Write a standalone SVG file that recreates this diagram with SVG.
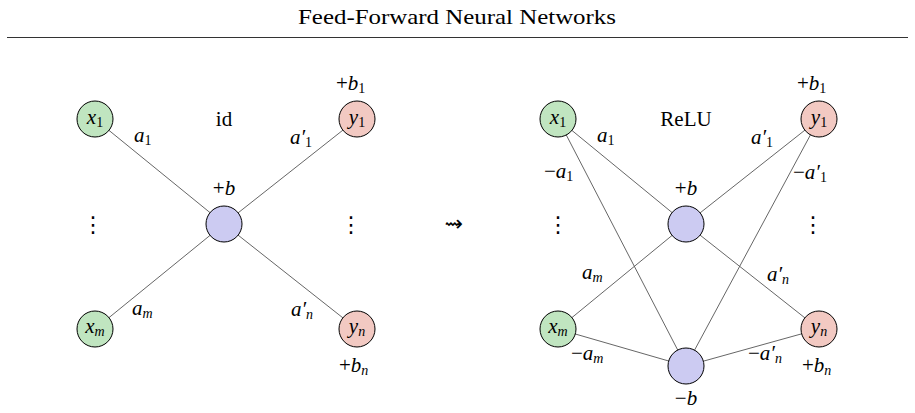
<svg xmlns="http://www.w3.org/2000/svg" width="915" height="413" viewBox="0 0 915 413">
<style>
.t{font-family:"Liberation Serif","Times New Roman",serif;fill:#000}
.m{font-family:"Liberation Serif","Times New Roman",serif;font-style:italic;font-size:21px;fill:#000}
.r{font-style:normal}
.s{font-size:14px}
.e{stroke:#555;stroke-width:0.9;fill:none}
.nx{fill:#c0e5c0;stroke:#000;stroke-width:1}
.ny{fill:#f2c9c2;stroke:#000;stroke-width:1}
.nh{fill:#cccbf2;stroke:#000;stroke-width:1}
.dots{font-family:"DejaVu Sans",sans-serif;font-size:22px}
</style>
<rect width="915" height="413" fill="#fff"/>
<text class="t" x="457" y="24" font-size="22" text-anchor="middle" textLength="318" lengthAdjust="spacingAndGlyphs">Feed-Forward Neural Networks</text>
<line x1="7" y1="37.5" x2="908" y2="37.5" stroke="#333" stroke-width="1"/>

<g id="connectors">
<line class="e" x1="95" y1="119" x2="224" y2="224"/>
<line class="e" x1="95" y1="329" x2="224" y2="224"/>
<line class="e" x1="224" y1="224" x2="357" y2="119"/>
<line class="e" x1="224" y1="224" x2="357" y2="329"/>
<line class="e" x1="558" y1="119" x2="686" y2="224"/>
<line class="e" x1="558" y1="119" x2="686" y2="366"/>
<line class="e" x1="558" y1="329" x2="686" y2="224"/>
<line class="e" x1="558" y1="329" x2="686" y2="366"/>
<line class="e" x1="686" y1="224" x2="819" y2="119"/>
<line class="e" x1="686" y1="224" x2="819" y2="329"/>
<line class="e" x1="686" y1="366" x2="819" y2="119"/>
<line class="e" x1="686" y1="366" x2="819" y2="329"/>
</g>

<g id="left-x1"><circle class="nx" cx="95" cy="119" r="18"/><text class="m" x="95" y="124" text-anchor="middle">x<tspan class="s r" dy="3">1</tspan></text></g>
<g id="left-xm"><circle class="nx" cx="95" cy="329" r="18"/><text class="m" x="95" y="333" text-anchor="middle">x<tspan class="s" dy="3">m</tspan></text></g>
<g id="left-h"><circle class="nh" cx="224" cy="224" r="18"/></g>
<g id="left-y1"><circle class="ny" cx="357" cy="119" r="18"/><text class="m" x="357" y="124" text-anchor="middle">y<tspan class="s r" dy="3">1</tspan></text></g>
<g id="left-yn"><circle class="ny" cx="357" cy="329" r="18"/><text class="m" x="357" y="333" text-anchor="middle">y<tspan class="s" dy="3">n</tspan></text></g>

<g id="left-labels">
<text class="t" x="224" y="126" font-size="21" text-anchor="middle">id</text>
<text class="m" x="224" y="195" text-anchor="middle"><tspan class="r">+</tspan>b</text>
<text class="m" x="336" y="90"><tspan class="r">+</tspan>b<tspan class="s r" dy="3">1</tspan></text>
<text class="m" x="134" y="142">a<tspan class="s r" dy="3">1</tspan></text>
<text class="m" x="290" y="144">a′<tspan class="s r" dy="3">1</tspan></text>
<text class="m" x="132" y="315">a<tspan class="s" dy="3">m</tspan></text>
<text class="m" x="291" y="316">a′<tspan class="s" dy="3">n</tspan></text>
<text class="m" x="339" y="372"><tspan class="r">+</tspan>b<tspan class="s" dy="3">n</tspan></text>
<text class="dots" x="93" y="232" text-anchor="middle">⋮</text>
<text class="dots" x="351" y="232" text-anchor="middle">⋮</text>
</g>

<text id="leadsto" x="454" y="231" font-family="DejaVu Sans,sans-serif" font-size="22" text-anchor="middle">⇝</text>

<g id="right-x1"><circle class="nx" cx="558" cy="119" r="18"/><text class="m" x="558" y="124" text-anchor="middle">x<tspan class="s r" dy="3">1</tspan></text></g>
<g id="right-xm"><circle class="nx" cx="558" cy="329" r="18"/><text class="m" x="558" y="333" text-anchor="middle">x<tspan class="s" dy="3">m</tspan></text></g>
<g id="right-ht"><circle class="nh" cx="686" cy="224" r="18"/></g>
<g id="right-hb"><circle class="nh" cx="686" cy="366" r="18"/></g>
<g id="right-y1"><circle class="ny" cx="819" cy="119" r="18"/><text class="m" x="819" y="124" text-anchor="middle">y<tspan class="s r" dy="3">1</tspan></text></g>
<g id="right-yn"><circle class="ny" cx="819" cy="329" r="18"/><text class="m" x="819" y="333" text-anchor="middle">y<tspan class="s" dy="3">n</tspan></text></g>

<g id="right-labels">
<text class="t" x="686" y="126" font-size="21" text-anchor="middle">ReLU</text>
<text class="m" x="686" y="195" text-anchor="middle"><tspan class="r">+</tspan>b</text>
<text class="m" x="686" y="405" text-anchor="middle"><tspan class="r">−</tspan>b</text>
<text class="m" x="797" y="90"><tspan class="r">+</tspan>b<tspan class="s r" dy="3">1</tspan></text>
<text class="m" x="597" y="142">a<tspan class="s r" dy="3">1</tspan></text>
<text class="m" x="544" y="178"><tspan class="r">−</tspan>a<tspan class="s r" dy="3">1</tspan></text>
<text class="m" x="751" y="144">a′<tspan class="s r" dy="3">1</tspan></text>
<text class="m" x="793" y="179"><tspan class="r">−</tspan>a′<tspan class="s r" dy="3">1</tspan></text>
<text class="m" x="582" y="279">a<tspan class="s" dy="3">m</tspan></text>
<text class="m" x="767" y="281">a′<tspan class="s" dy="3">n</tspan></text>
<text class="m" x="571" y="360"><tspan class="r">−</tspan>a<tspan class="s" dy="3">m</tspan></text>
<text class="m" x="748" y="360"><tspan class="r">−</tspan>a′<tspan class="s" dy="3">n</tspan></text>
<text class="m" x="802" y="372"><tspan class="r">+</tspan>b<tspan class="s" dy="3">n</tspan></text>
<text class="dots" x="558" y="232" text-anchor="middle">⋮</text>
<text class="dots" x="813" y="232" text-anchor="middle">⋮</text>
</g>
</svg>
